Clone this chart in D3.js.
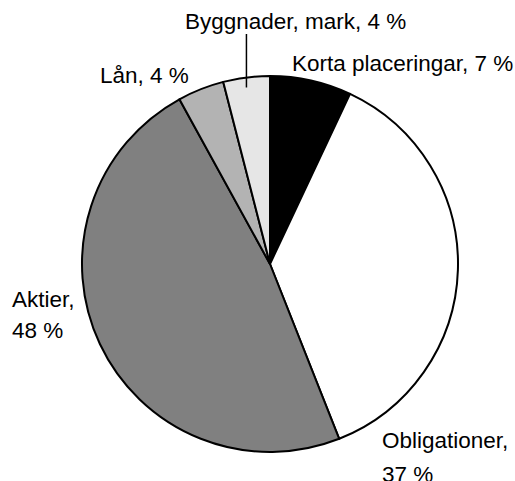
<!DOCTYPE html>
<html>
<head>
<meta charset="utf-8">
<script src="https://cdn.jsdelivr.net/npm/d3@7"></script>
<style>
  html, body { margin: 0; padding: 0; background: #fff; }
  svg { display: block; }
  text { font-family: "Liberation Sans", Arial, sans-serif; font-size: 22.5px; fill: #000; }
</style>
</head>
<body>
<svg id="chart"></svg>
<script>
// data, clockwise from 12 o'clock
const categories = ["Korta placeringar", "Obligationer", "Aktier", "Lån", "Byggnader, mark"];
const shares = [7, 37, 48, 4, 4];
const fills = ["#000000", "#ffffff", "#808080", "#b3b3b3", "#e6e6e6"];
// label text lines
const labelLines = [
  ["Korta placeringar, 7 %"],
  ["Obligationer,", "37 %"],
  ["Aktier,", "48 %"],
  ["Lån, 4 %"],
  ["Byggnader, mark, 4 %"]
];

const width = 515, height = 481;
const cx = 270, cy = 264, radius = 188;

const svg = d3.select("#chart")
  .attr("width", width)
  .attr("height", height);

const g = svg.append("g")
  .attr("transform", "translate(" + cx + "," + cy + ")");

const pie = d3.pie().sort(null).value(function(d) { return d; });
const arc = d3.arc().innerRadius(0).outerRadius(radius);
const arcs = pie(shares);

g.selectAll("path")
  .data(arcs)
  .enter()
  .append("path")
  .attr("d", arc)
  .style("fill", function(d, i) { return fills[i]; })
  .style("stroke", "#000")
  .style("stroke-width", 2)
  .style("stroke-linejoin", "round");

// label placement (layout only)
const labelPos = [
  { x: 292, y: 71, lh: 0 },
  { x: 382, y: 448, lh: 34 },
  { x: 12, y: 307, lh: 31 },
  { x: 100, y: 83, lh: 0 },
  { x: 185, y: 29, lh: 0 }
];

labelLines.forEach(function(lines, i) {
  const t = svg.append("text")
    .attr("x", labelPos[i].x)
    .attr("y", labelPos[i].y);
  lines.forEach(function(s, j) {
    t.append("tspan")
      .attr("x", labelPos[i].x)
      .attr("dy", j === 0 ? 0 : labelPos[i].lh)
      .text(s);
  });
});

// leader line for the small building slice
const byg = arcs[4];
const midA = (byg.startAngle + byg.endAngle) / 2;
const lx = Math.sin(midA) * radius;
svg.append("line")
  .attr("x1", cx + lx).attr("x2", cx + lx)
  .attr("y1", 34)
  .attr("y2", cy - Math.cos(midA) * radius + 10)
  .style("stroke", "#000")
  .style("stroke-width", 1.5);
</script>
</body>
</html>
